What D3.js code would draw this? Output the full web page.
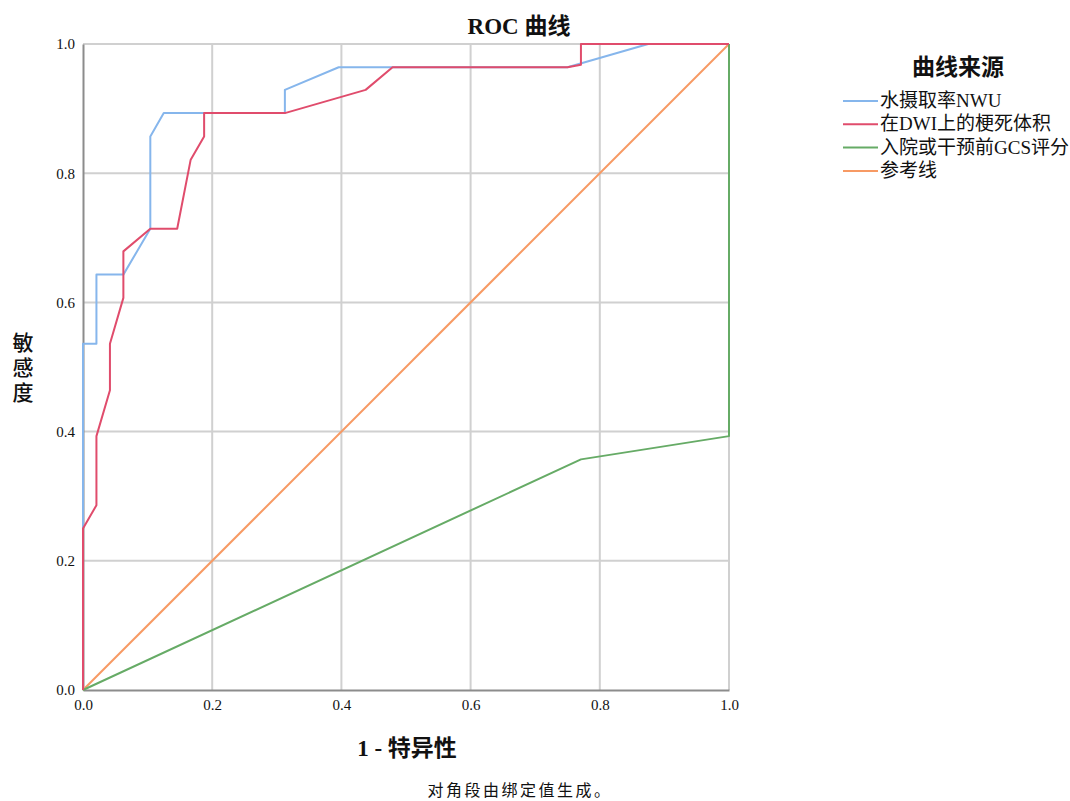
<!DOCTYPE html>
<html>
<head>
<meta charset="utf-8">
<script src="https://cdn.jsdelivr.net/npm/d3@7"></script>
<style>
  body { margin: 0; background: #fff; }
  .grid line { stroke: #d0d0d0; stroke-width: 2; }
  text { font-family: "Liberation Serif", "Noto Sans CJK SC", serif; fill: #111; }
  .cjk { font-family: "Noto Sans CJK SC", sans-serif; }
</style>
</head>
<body>
<script>
// ROC points, x = 1 - specificity, y = sensitivity
var nwuX  = [0, 0, 0.0208, 0.0208, 0.0625, 0.1042, 0.1042, 0.125, 0.3125, 0.3125, 0.3958, 0.75, 0.875, 1];
var nwuY  = [0, 0.536, 0.536, 0.643, 0.643, 0.714, 0.857, 0.893, 0.893, 0.929, 0.964, 0.964, 1, 1];
var dwiX  = [0, 0, 0.0208, 0.0208, 0.0417, 0.0417, 0.0625, 0.0625, 0.1042, 0.1458, 0.1667, 0.1875, 0.1875, 0.3125, 0.4375, 0.4792, 0.75, 0.7708, 0.7708, 1];
var dwiY  = [0, 0.25, 0.286, 0.393, 0.464, 0.536, 0.607, 0.679, 0.714, 0.714, 0.821, 0.857, 0.893, 0.893, 0.929, 0.964, 0.964, 0.968, 1, 1];
var gcsX  = [0, 0.7708, 1, 1];
var gcsY  = [0, 0.357, 0.393, 1];
var refX  = [0, 1];
var refY  = [0, 1];

var seriesNames = ["水摄取率NWU", "在DWI上的梗死体积", "入院或干预前GCS评分", "参考线"];
var seriesColors = ["#86b6ec", "#e04c6c", "#66ab66", "#f79a64"];
var ticks = [0, 0.2, 0.4, 0.6, 0.8, 1.0];

var W = 1070, H = 801;
var svg = d3.select("body").append("svg").attr("width", W).attr("height", H);

var x = d3.scaleLinear().domain([0, 1]).range([83, 729]);
var y = d3.scaleLinear().domain([0, 1]).range([690, 44]);

// grid
var grid = svg.append("g").attr("class", "grid");
grid.selectAll("line.v").data(ticks.slice(1)).enter().append("line")
    .attr("x1", d => x(d)).attr("x2", d => x(d))
    .attr("y1", y(0)).attr("y2", y(1));
grid.selectAll("line.h").data(ticks.slice(1)).enter().append("line")
    .attr("x1", x(0)).attr("x2", x(1))
    .attr("y1", d => y(d)).attr("y2", d => y(d));

// axes
var xAxis = svg.append("g").attr("transform", "translate(0," + y(0) + ")")
    .call(d3.axisBottom(x).tickValues(ticks).tickFormat(d3.format(".1f")).tickSize(0).tickPadding(9));
var yAxis = svg.append("g").attr("transform", "translate(" + x(0) + ",0)")
    .call(d3.axisLeft(y).tickValues(ticks).tickFormat(d3.format(".1f")).tickSize(0).tickPadding(8));
[xAxis, yAxis].forEach(function(a) {
    a.select(".domain").attr("stroke", "#8c8c8c").attr("stroke-width", 2);
    a.selectAll("text").style("font-family", "Liberation Serif").style("font-size", "15px").attr("fill", "#111");
});

// curves
var line = d3.line().x(d => x(d[0])).y(d => y(d[1]));
var curves = [
    [refX, refY, 3],
    [gcsX, gcsY, 2],
    [nwuX, nwuY, 0],
    [dwiX, dwiY, 1]
];
curves.forEach(function(c) {
    var pts = c[0].map((v, i) => [v, c[1][i]]);
    svg.append("path").datum(pts)
        .attr("d", line)
        .attr("fill", "none")
        .attr("stroke", seriesColors[c[2]])
        .attr("stroke-width", 2)
        .attr("stroke-linejoin", "round");
});

// title
svg.append("text").attr("x", 519).attr("y", 34).attr("text-anchor", "middle")
    .style("font-size", "23px").style("font-weight", "bold").text("ROC 曲线");

// axis titles
svg.append("text").attr("x", 407).attr("y", 756).attr("text-anchor", "middle")
    .style("font-size", "23px").style("font-weight", "bold").text("1 - 特异性");

// y title, stacked characters
svg.append("text")
    .attr("class", "cjk")
    .attr("x", 23).attr("y", 369)
    .attr("text-anchor", "middle")
    .style("writing-mode", "vertical-rl")
    .style("text-orientation", "upright")
    .style("letter-spacing", "4px")
    .style("font-size", "21px").style("font-weight", "500")
    .text("敏感度");

// footnote
svg.append("text").attr("x", 520).attr("y", 796).attr("text-anchor", "middle")
    .style("font-size", "16px").style("letter-spacing", "2.5px").text("对角段由绑定值生成。");

// legend
svg.append("text").attr("x", 958).attr("y", 75).attr("text-anchor", "middle")
    .style("font-size", "23px").style("font-weight", "bold").text("曲线来源");
var leg = svg.selectAll("g.leg").data(seriesNames).enter().append("g")
    .attr("transform", (d, i) => "translate(843," + (101 + i * 23.3) + ")");
leg.append("line").attr("x1", 0).attr("x2", 35).attr("y1", 0).attr("y2", 0)
    .attr("stroke", (d, i) => seriesColors[i]).attr("stroke-width", 2);
leg.append("text").attr("x", 37).attr("y", 6).style("font-size", "19px").text(d => d);
</script>
</body>
</html>
